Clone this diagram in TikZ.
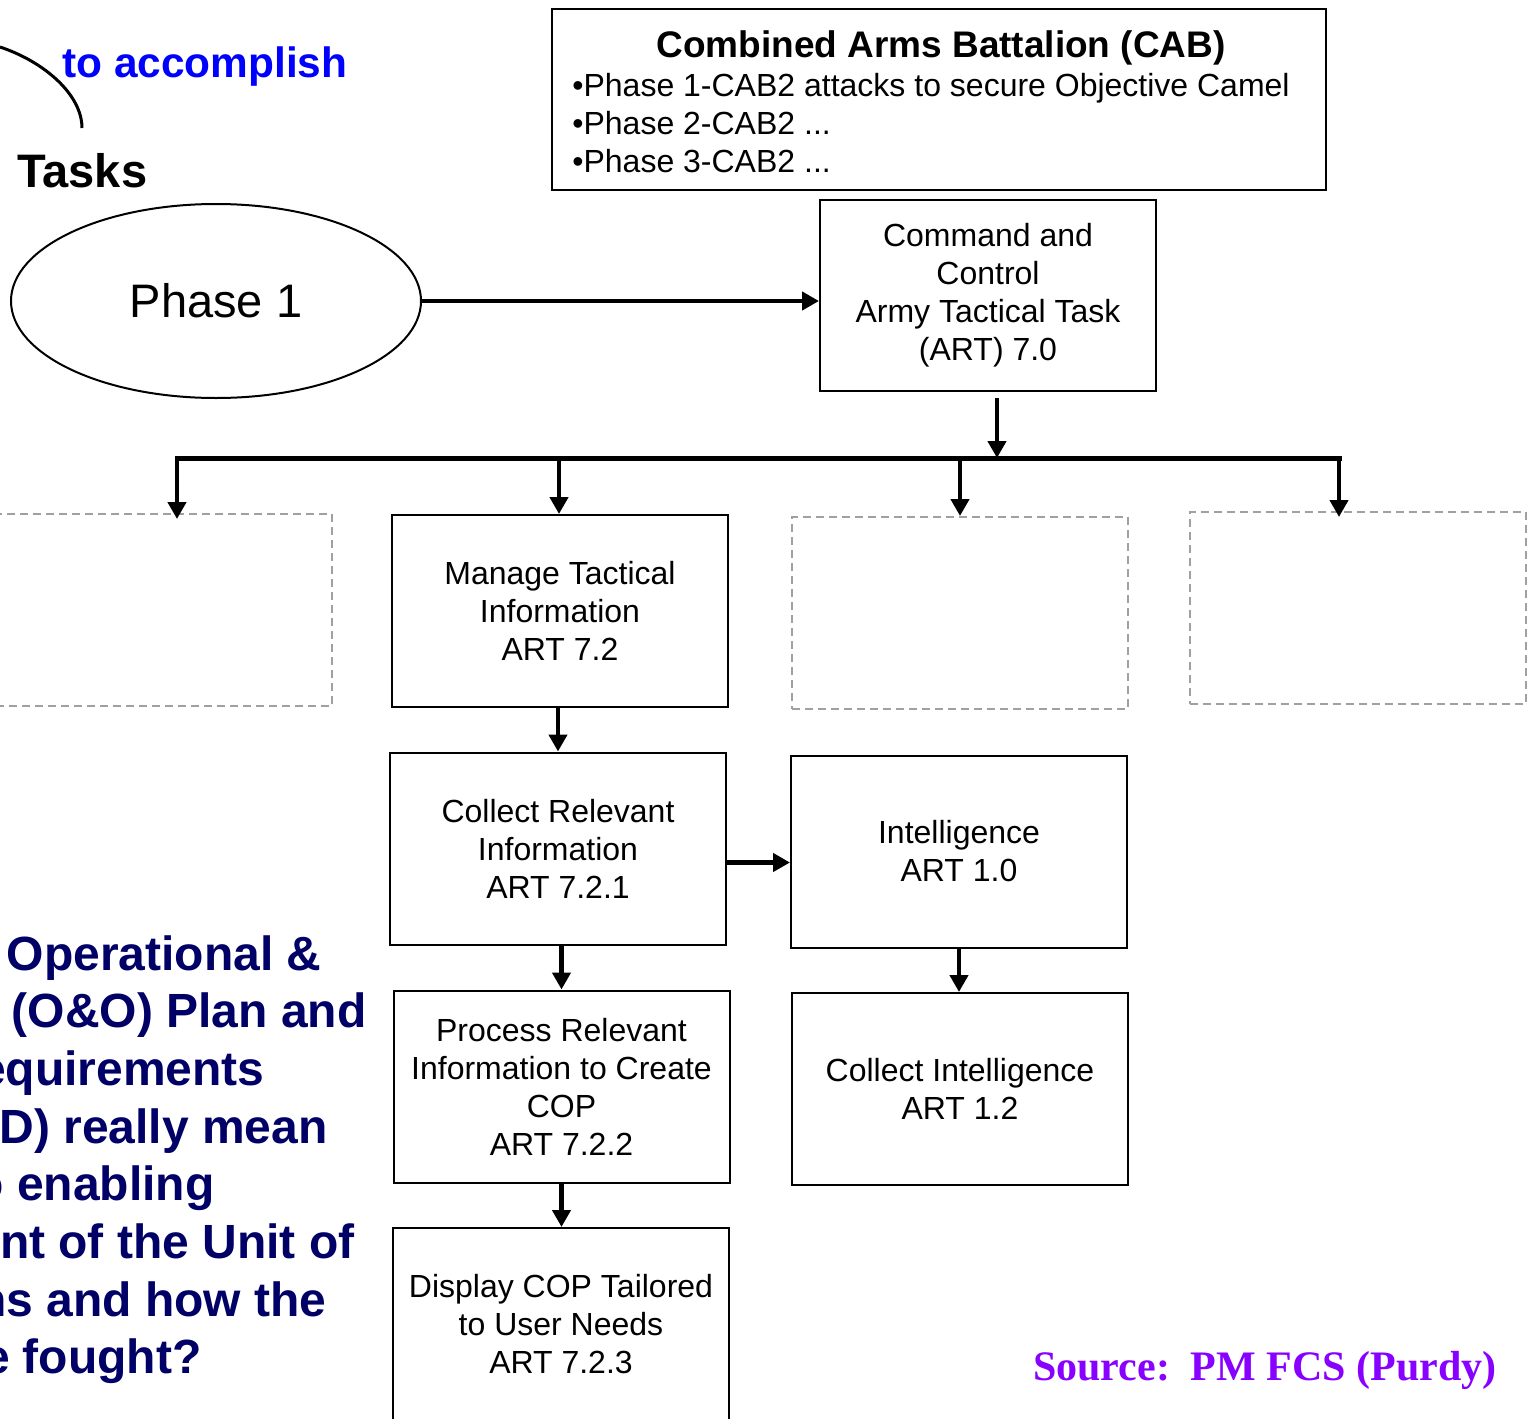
\documentclass[tikz,border=0pt]{standalone}
\usepackage{fontspec}
\setmainfont{Liberation Sans}
\newfontfamily\srcfont{Liberation Serif}
\usetikzlibrary{arrows.meta,shapes.geometric,calc}
\definecolor{navytext}{RGB}{0,0,102}
\definecolor{bluetext}{RGB}{0,0,255}
\definecolor{purpletext}{RGB}{136,0,255}
\definecolor{dashgray}{RGB}{160,160,160}
\begin{document}
\begin{tikzpicture}[x=0.5pt,y=-0.5pt,
  tbox/.style={draw,line width=1pt,minimum width=168pt,minimum height=96pt,inner sep=0pt,align=center,font=\fontsize{16}{19}\selectfont},
  ghost/.style={draw=dashgray,dash pattern=on 4pt off 2.5pt,line width=1pt,minimum width=168pt,minimum height=96pt,inner sep=0pt},
  arr/.style={line width=2.25pt,-{Triangle[length=8.5pt,width=9pt]}},
  busline/.style={line width=2.5pt,line cap=rect},
  navy/.style={font=\fontsize{24}{28.85}\selectfont\bfseries,text=navytext,anchor=base east,inner sep=0pt},
  cabline/.style={font=\fontsize{16}{19}\selectfont,anchor=base west,inner sep=0pt}
]
\useasboundingbox (0,0) rectangle (1527,1419);
\clip (0,0) rectangle (1527,1419);

% top-left fragment
\coordinate (arcstart) at (0,47);
\coordinate (arcend) at (82,128);
\draw[line width=1.5pt] (arcstart) .. controls (45,62) and (82,95) .. (arcend);
\node[font=\fontsize{21.2}{25}\selectfont\bfseries,text=bluetext,anchor=base west,inner sep=0pt] (accomplish) at (62,77) {to accomplish};
\node[font=\fontsize{23.5}{28}\selectfont\bfseries,anchor=base west,inner sep=0pt] (tasks) at (17,187) {Tasks};

% CAB box
\node[draw,line width=1.2pt,minimum width=387pt,minimum height=90.5pt,inner sep=0pt] (cab) at (939,99.5) {};
\node[font=\fontsize{18.5}{22}\selectfont\bfseries,anchor=base,inner sep=0pt] (cabtitle) at (941,57) {Combined Arms Battalion (CAB)};
\node[cabline] (cabp1) at (572,96.5) {•Phase 1-CAB2 attacks to secure Objective Camel};
\node[cabline] (cabp2) at (572,134.5) {•Phase 2-CAB2 ...};
\node[cabline] (cabp3) at (572,172.5) {•Phase 3-CAB2 ...};

% Phase 1 ellipse and C2 box
\node[ellipse,draw,line width=1pt,minimum width=205pt,minimum height=97pt,inner sep=0pt,font=\fontsize{23.5}{28}\selectfont] (phase1) at (216,301) {Phase 1};
\node[tbox,minimum height=95.5pt] (cc) at (988,295.5) {Command and\\Control\\Army Tactical Task\\(ART) 7.0};
\draw[arr] (phase1.east) -- (phase1.east -| cc.west);

% bus
\coordinate (busc) at (997,458);
\coordinate (bl) at (177,458);
\coordinate (bm) at (559,458);
\coordinate (bn) at (960,458);
\coordinate (br) at (1339,458);
\draw[arr] ([yshift=-3pt]cc.south -| busc) -- (busc);
\draw[busline] (bl) -- (br);

% second row
\node[ghost] (g1) at (164,610) {};
\node[tbox] (manage) at (560,611) {Manage Tactical\\Information\\ART 7.2};
\node[ghost] (g3) at (960,613) {};
\node[ghost] (g4) at (1357.5,608) {};
\draw[arr,shorten >=-3pt] (bl) -- (bl |- g1.north);
\draw[arr] (bm) -- (bm |- manage.north);
\draw[arr] (bn) -- (bn |- g3.north);
\draw[arr,shorten >=-3pt] (br) -- (br |- g4.north);

% lower boxes
\node[tbox] (collect) at (558,848.5) {Collect Relevant\\Information\\ART 7.2.1};
\node[tbox] (intel) at (959,851.5) {Intelligence\\ART 1.0};
\node[tbox] (collint) at (960,1089) {Collect Intelligence\\ART 1.2};
\node[tbox] (process) at (561.5,1086.5) {Process Relevant\\Information to Create\\COP\\ART 7.2.2};
\node[tbox] (display) at (561,1324) {Display COP Tailored\\to User Needs\\ART 7.2.3};

\draw[arr] (manage.south -| collect.north) -- (collect.north);
\draw[arr] ([yshift=-7pt]collect.east) -- ([yshift=-7pt]collect.east -| intel.west);
\draw[arr] (intel.south) -- (intel.south |- collint.north);
\draw[arr] (process.north |- collect.south) -- (process.north);
\draw[arr] (process.south) -- (process.south |- display.north);

% left question text (cut off by the page edge)
\node[navy] (q1) at (322,970) {Operational \&};
\node[navy] (q2) at (367,1027.7) {(O\&O) Plan and};
\node[navy] (q3) at (265,1085.4) {Requirements};
\node[navy] (q4) at (328,1143) {RD) really mean};
\node[navy] (q5) at (215,1200.8) {to enabling};
\node[navy] (q6) at (355,1258.5) {ment of the Unit of};
\node[navy] (q7) at (327,1316) {ons and how the};
\node[navy] (q8) at (202,1373.9) {be fought?};

% source
\node[font=\fontsize{21}{25}\selectfont\srcfont\bfseries,text=purpletext,anchor=base east,inner sep=0pt] (source) at (1497,1380) {Source:\ \ PM FCS (Purdy)};
\end{tikzpicture}
\end{document}
